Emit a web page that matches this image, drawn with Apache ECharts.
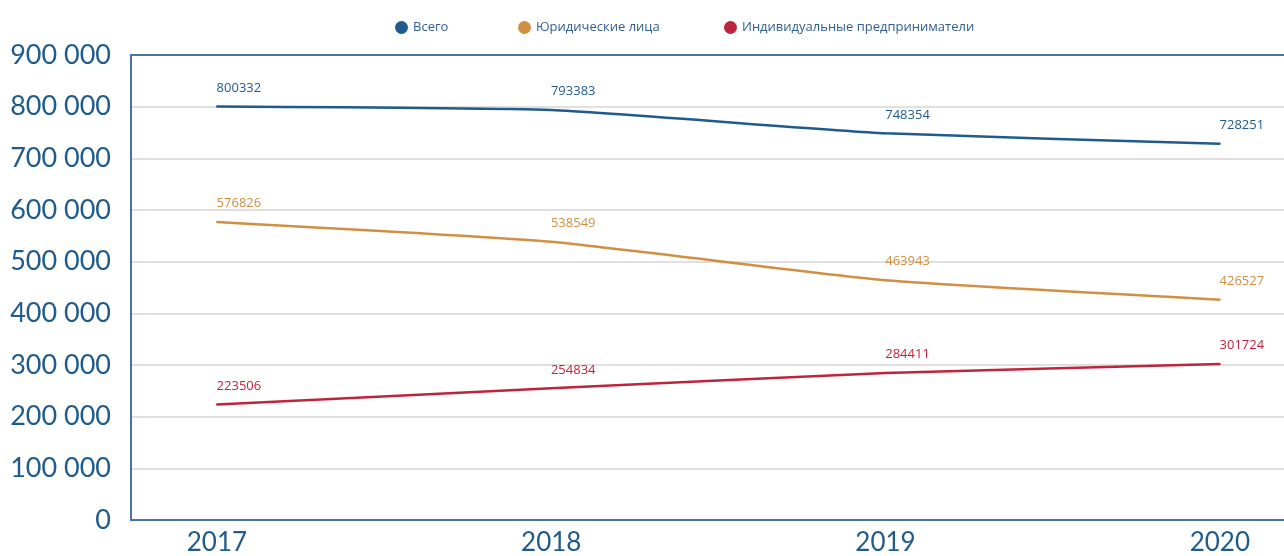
<!DOCTYPE html>
<html>
<head>
<meta charset="utf-8">
<script src="https://cdn.jsdelivr.net/npm/echarts@6/dist/echarts.min.js"></script>
<style>
  html, body { margin: 0; padding: 0; background: #fff; }
  #chart { width: 1284px; height: 556px; }
</style>
</head>
<body>
<div id="chart"></div>
<script>
// годы
const years = [2017, 2018, 2019, 2020]
// данные по сериям
const totalData = [800332, 793383, 748354, 728251]
const legalData = [576826, 538549, 463943, 426527]
const entrepData = [223506, 254834, 284411, 301724]
const seriesNames = ['Всего', 'Юридические лица', 'Индивидуальные предприниматели']
const seriesColors = ['#1f5b8c', '#d08f43', '#c0243b']

const chart = echarts.init(document.getElementById('chart'))

const pairs = (arr) => arr.map((v, i) => [years[i], v])

const makeSeries = (name, data, color) => ({
  name: name,
  type: 'line',
  data: pairs(data),
  smooth: 0.15,
  symbol: 'circle',
  symbolSize: 2,
  showSymbol: true,
  lineStyle: { width: 2.5, color: color },
  itemStyle: { color: color },
  label: {
    show: true,
    position: 'top',
    offset: [22, -6],
    color: color,
    fontSize: 13,
    fontFamily: 'Open Sans',
    formatter: (p) => String(p.value[1])
  }
})

const legendItem = (name, left) => ({
  data: [name],
  left: left,
  top: 16,
  icon: 'circle',
  itemWidth: 13,
  itemHeight: 13,
  itemGap: 0,
  textStyle: { color: '#2f5f8f', fontSize: 13, fontFamily: 'Open Sans' }
})

const option = {
  backgroundColor: '#fff',
  animation: false,
  legend: [
    legendItem(seriesNames[0], 390),
    legendItem(seriesNames[1], 513),
    legendItem(seriesNames[2], 719)
  ],
  grid: { left: 131, right: 0, top: 55, bottom: 36 },
  xAxis: [
    {
      type: 'value',
      min: 2016.743,
      max: 2020.192,
      axisLine: { show: true, lineStyle: { color: '#4a72a8', width: 2 } },
      axisTick: { show: false },
      splitLine: { show: false },
      axisLabel: {
        customValues: years,
        color: '#1f5b8c',
        fontSize: 26,
        fontFamily: 'Lato',
        margin: 10,
        formatter: (v) => String(v)
      }
    },
    {
      type: 'value',
      position: 'top',
      min: 2016.743,
      max: 2020.192,
      axisLine: { show: true, lineStyle: { color: '#4a72a8', width: 2 } },
      axisTick: { show: false },
      axisLabel: { show: false },
      splitLine: { show: false }
    }
  ],
  yAxis: {
    type: 'value',
    min: 0,
    max: 900000,
    interval: 100000,
    axisLine: { show: true, lineStyle: { color: '#4a72a8', width: 2 } },
    axisTick: { show: false },
    splitLine: { lineStyle: { color: '#d6d6d6', width: 1.5 } },
    axisLabel: {
      color: '#1f5b8c',
      fontSize: 27,
      fontFamily: 'Lato',
      margin: 20,
      formatter: (v) => String(v).replace(/\B(?=(\d{3})+(?!\d))/g, ' ')
    }
  },
  series: [
    makeSeries(seriesNames[0], totalData, seriesColors[0]),
    makeSeries(seriesNames[1], legalData, seriesColors[1]),
    makeSeries(seriesNames[2], entrepData, seriesColors[2])
  ]
}

chart.setOption(option)
</script>
</body>
</html>
